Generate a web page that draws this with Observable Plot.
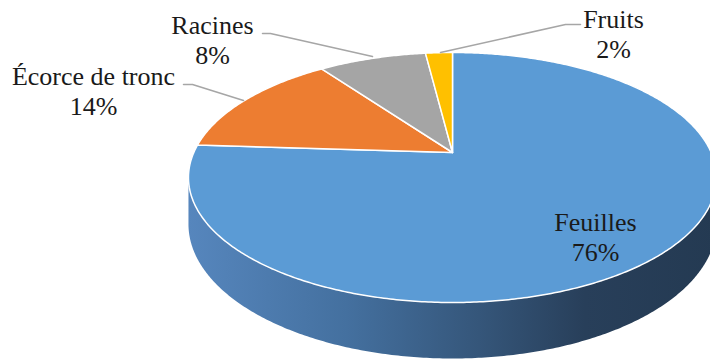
<!DOCTYPE html>
<html>
<head>
<meta charset="utf-8">
<script src="https://cdn.jsdelivr.net/npm/d3@7"></script>
<script src="https://cdn.jsdelivr.net/npm/@observablehq/plot@0.6"></script>
<style>
  html, body { margin: 0; padding: 0; background: #ffffff; overflow: hidden; }
  #chart svg { display: block; overflow: hidden; }
  #chart svg text { font-family: 'Liberation Serif', 'Times New Roman', serif !important; }
</style>
</head>
<body>
<div id="chart"></div>
<script>
// ---- data ----
const categories = ["Feuilles", "Écorce de tronc", "Racines", "Fruits"];
const shares = [76, 14, 8, 2];
const pctLabels = ["76%", "14%", "8%", "2%"];
const sliceColors = ["#5B9BD5", "#ED7D31", "#A5A5A5", "#FFC000"];

// ---- layout (pixel space, mapped 1:1 through the x/y scales) ----
const W = 710, Hh = 360;
const geom = {cx: 452, cy: 152, A: 258.7, B: 120, P: 0.2, depth: 44.8};
const labelLayout = [
  {x: 595, y: 236},   // Feuilles
  {x: 93, y: 90},     // Écorce de tronc
  {x: 212, y: 39},    // Racines
  {x: 613, y: 33}     // Fruits
];
const leaders = [
  null,
  [[183, 84], [192, 84], [243, 100]],
  [[262, 33], [270, 33], [372, 56]],
  [[580, 24], [565, 24], [440, 52]]
];

function proj(theta, drop = 0) {
  const u = Math.sin(theta), v = Math.cos(theta), w = 1 + geom.P * v;
  return {x: geom.cx + geom.A * u / w, y: geom.cy - geom.B * v / w + drop / w};
}

const arcs = d3.pie().sort(null).value(d => d.share).startAngle(0).endAngle(2 * Math.PI)(
  categories.map((c, i) => ({category: c, share: shares[i], color: sliceColors[i], pct: pctLabels[i], i}))
);

// top face polygons
const topPolys = arcs.map(a => {
  const pts = [{x: geom.cx, y: geom.cy}];
  const n = Math.max(8, Math.ceil((a.endAngle - a.startAngle) / 0.01));
  for (let k = 0; k <= n; k++) pts.push(proj(a.startAngle + (a.endAngle - a.startAngle) * k / n));
  pts.push({x: geom.cx, y: geom.cy});
  return {arc: a, pts};
});

// visible side (front) polygons
const thR = Math.acos(-geom.P), thL = 2 * Math.PI - thR;
const sidePolys = arcs.map(a => {
  const s = Math.max(a.startAngle, thR), e = Math.min(a.endAngle, thL);
  if (e <= s) return null;
  const n = Math.ceil((e - s) / 0.01);
  const pts = [];
  for (let k = 0; k <= n; k++) pts.push(proj(s + (e - s) * k / n));
  for (let k = n; k >= 0; k--) pts.push(proj(s + (e - s) * k / n, geom.depth));
  pts.push(pts[0]);
  return {arc: a, pts};
}).filter(Boolean);

const svgNS = "http://www.w3.org/2000/svg";
function gradientDefs() {
  const defs = document.createElementNS(svgNS, "defs");
  const g = document.createElementNS(svgNS, "linearGradient");
  g.setAttribute("id", "sideGrad");
  g.setAttribute("gradientUnits", "userSpaceOnUse");
  g.setAttribute("x1", "188"); g.setAttribute("x2", "716");
  g.setAttribute("y1", "0"); g.setAttribute("y2", "0");
  [["0", "#5686bd"], ["0.3", "#44709f"], ["0.55", "#35567a"], ["0.75", "#283f5a"], ["1", "#243a52"]].forEach(([o, c]) => {
    const st = document.createElementNS(svgNS, "stop");
    st.setAttribute("offset", o); st.setAttribute("stop-color", c);
    g.appendChild(st);
  });
  defs.appendChild(g);
  return defs;
}

const marks = [() => gradientDefs()];
sidePolys.forEach(p => {
  marks.push(Plot.line(p.pts, {x: "x", y: "y", fill: p.arc.index === 0 ? "url(#sideGrad)" : d3.color(p.arc.data.color).darker(1).formatHex(), stroke: "none", curve: "linear"}));
});
topPolys.forEach(p => {
  marks.push(Plot.line(p.pts, {x: "x", y: "y", fill: p.arc.data.color, stroke: "white", strokeWidth: 1.5, strokeLinejoin: "round", curve: "linear"}));
});
leaders.forEach(l => {
  if (!l) return;
  marks.push(Plot.line(l.map(([x, y]) => ({x, y})), {x: "x", y: "y", stroke: "#a6a6a6", strokeWidth: 1.5, curve: "linear"}));
});
const labelData = arcs.map(a => ({
  text: a.data.category + "\n" + a.data.pct,
  x: labelLayout[a.index].x,
  y: labelLayout[a.index].y
}));
marks.push(Plot.text(labelData, {
  x: "x", y: "y", text: "text",
  fontFamily: "'Liberation Serif', 'Times New Roman', serif",
  fontSize: 26, lineHeight: 30 / 26, lineAnchor: "middle", textAnchor: "middle",
  fill: "#1a1a1a"
}));

const chart = Plot.plot({
  width: W, height: Hh,
  margin: 0,
  x: {domain: [0, W], range: [0, W], axis: null},
  y: {domain: [0, Hh], range: [0, Hh], axis: null},
  style: {background: "#ffffff", overflow: "hidden", fontFamily: "'Liberation Serif', 'Times New Roman', serif"},
  marks
});
document.getElementById("chart").appendChild(chart);
</script>
</body>
</html>
